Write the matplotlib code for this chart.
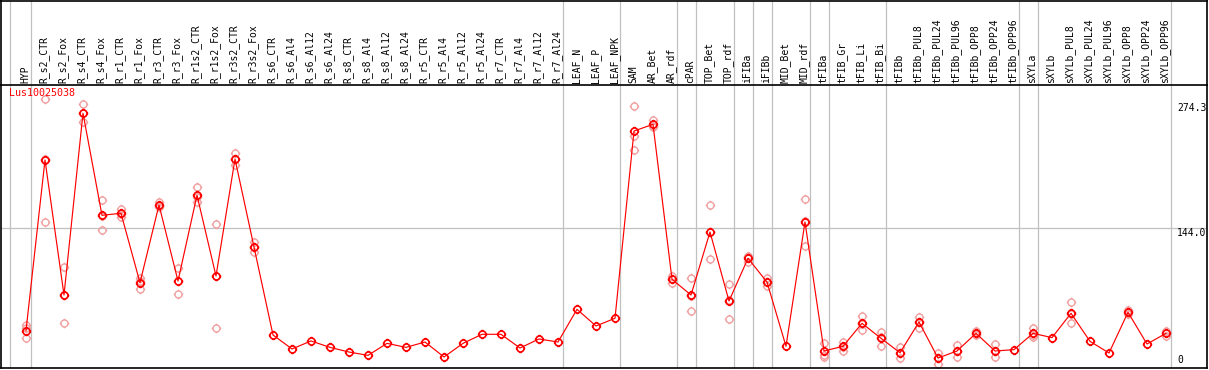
import numpy as np
import matplotlib
matplotlib.use('Agg')
import matplotlib.pyplot as plt
import matplotlib.transforms as mtransforms
from matplotlib.path import Path
from matplotlib.lines import Line2D

# sample / condition names (left to right)
categories = ['HYP', 'R_s2_CTR', 'R_s2_Fox', 'R_s4_CTR', 'R_s4_Fox', 'R_r1_CTR', 'R_r1_Fox',
              'R_r3_CTR', 'R_r3_Fox', 'R_r1s2_CTR', 'R_r1s2_Fox', 'R_r3s2_CTR', 'R_r3s2_Fox',
              'R_s6_CTR', 'R_s6_Al4', 'R_s6_Al12', 'R_s6_Al24', 'R_s8_CTR', 'R_s8_Al4',
              'R_s8_Al12', 'R_s8_Al24', 'R_r5_CTR', 'R_r5_Al4', 'R_r5_Al12', 'R_r5_Al24',
              'R_r7_CTR', 'R_r7_Al4', 'R_r7_Al12', 'R_r7_Al24', 'LEAF_N', 'LEAF_P', 'LEAF_NPK',
              'SAM', 'AR_Bet', 'AR_rdf', 'cPAR', 'TOP_Bet', 'TOP_rdf', 'iFIBa', 'iFIBb',
              'MID_Bet', 'MID_rdf', 'tFIBa', 'tFIB_Gr', 'tFIB_Li', 'tFIB_Bi', 'tFIBb',
              'tFIBb_PUL8', 'tFIBb_PUL24', 'tFIBb_PUL96', 'tFIBb_OPP8', 'tFIBb_OPP24',
              'tFIBb_OPP96', 'sXYLa', 'sXYLb', 'sXYLb_PUL8', 'sXYLb_PUL24', 'sXYLb_PUL96',
              'sXYLb_OPP8', 'sXYLb_OPP24', 'sXYLb_OPP96']

# mean expression per sample
means = [36.0, 215.0, 73.4, 264.0, 157.0, 159.1, 86.3, 167.8, 88.1, 178.0, 93.3, 216.0, 123.8,
         31.5, 16.8, 25.2, 18.5, 13.6, 10.1, 22.7, 18.5, 24.1, 8.4, 22.7, 32.2,
         32.2, 17.8, 27.3, 24.1, 58.4, 40.9, 49.0,
         245.4, 252.4, 89.9, 73.4, 139.5, 67.1, 111.9, 87.0,
         19.6, 150.0, 14.7, 19.6, 43.7, 28.0, 12.9,
         45.1, 7.3, 14.7, 33.2, 14.7, 16.1, 33.2, 28.7, 54.2, 24.8, 12.6,
         55.3, 22.0, 33.2]

nan = np.nan
# replicates (nan = hidden under the mean)
rep1 = [41.5, 279.0, 102.4, 273.7, 173.0, 163.6, 90.9, 171.3, 101.4, 186.4, 147.5, 222.0, 128.7,
        nan, nan, nan, nan, nan, nan, nan, nan, nan, nan, nan, nan,
        nan, nan, nan, nan, nan, nan, nan,
        271.6, 257.0, 93.7, 90.9, 167.5, 84.9, 114.6, 90.9,
        nan, 174.1, 22.8, 24.5, 51.4, 34.3, 19.2,
        50.7, 12.9, 21.0, 35.7, 21.7, nan, 39.1, nan, 65.7, nan, nan,
        57.7, nan, 35.7]
rep2 = [38.5, 216.3, 73.8, 263.8, 156.4, 158.0, 88.6, 166.7, 88.4, 176.3, 93.6, 216.2, 124.2,
        nan, nan, nan, nan, nan, nan, nan, nan, nan, nan, nan, nan,
        nan, nan, nan, nan, nan, nan, nan,
        240.2, 251.0, 89.7, 72.7, 139.8, 68.2, 112.8, 87.2,
        nan, 151.4, 10.5, 19.3, 43.0, 29.5, 12.5,
        45.5, 7.6, 15.1, 32.4, 14.4, nan, 31.5, nan, 53.2, nan, nan,
        53.5, nan, 30.7]
rep3 = [28.5, 149.7, 44.0, 254.5, 141.6, 155.6, 79.4, 165.4, 74.5, 171.3, 38.8, 209.8, 118.5,
        nan, nan, nan, nan, nan, nan, nan, nan, nan, nan, nan, nan,
        nan, nan, nan, nan, nan, nan, nan,
        225.2, 249.3, 86.3, 56.6, 111.2, 48.2, 108.3, 82.9,
        nan, 124.5, 8.7, 15.0, 36.7, 20.2, 7.0,
        39.1, 1.4, 8.0, 31.5, 8.0, nan, 29.0, nan, 43.7, nan, nan,
        nan, nan, nan]

# group separators sit just after these sample indices
group_ends = [0, 28, 31, 34, 35, 37, 38, 39, 41, 42, 45, 52, 53, 60]
ytick_vals = [0, 144.0, 274.3]
gene_name = 'Lus10025038'

x = np.arange(len(categories))

# circle marker with four little ticks outside
circ = Path.unit_circle()
tick_paths = [Path([(0, 1), (0, 1.35)], [Path.MOVETO, Path.LINETO]),
              Path([(0, -1), (0, -1.35)], [Path.MOVETO, Path.LINETO]),
              Path([(1, 0), (1.35, 0)], [Path.MOVETO, Path.LINETO]),
              Path([(-1, 0), (-1.35, 0)], [Path.MOVETO, Path.LINETO])]
mk = Path.make_compound_path(circ, *tick_paths)

mono = 'DejaVu Sans Mono'

fig = plt.figure(figsize=(12.09, 3.70), dpi=100)
W, H = 1209.0, 370.0
ax = fig.add_axes([1 / W, 2 / H, 1206 / W, 283 / H])
ax.set_xlim((1 - 26) / 19.0, (1207 - 26) / 19.0)
ax.set_ylim(-3.15, 293.65)
ax.set_xticks([])
ax.set_yticks([])
for s in ax.spines.values():
    s.set_color('black')
    s.set_linewidth(1.2)

# grid
ax.axhline(144.0, color='#c0c0c0', lw=0.9, zorder=1)
seps = [-0.84] + [g + 0.25 for g in group_ends]
ax.vlines(seps, 0, 368 / 283.0, color='#c0c0c0', lw=0.9,
          transform=ax.get_xaxis_transform(), clip_on=False, zorder=1)

# replicates then means
for rep in [rep1, rep2, rep3]:
    ax.plot(x, rep, ls='none', marker=mk, markersize=6.8, mfc='none', mec='#f0a0a0',
            mew=1.0, zorder=2)
ax.plot(x, means, color='red', lw=0.85, marker=mk, markersize=6.8, mfc='none', mec='red',
        mew=1.2, zorder=3)

# header labels
hdr = mtransforms.blended_transform_factory(ax.transData, ax.transAxes)
for xi, lab in zip(x, categories):
    ax.text(xi - 0.05, 1 + 2 / 283.0, lab, rotation=90, ha='center', va='bottom',
            fontsize=7, family=mono, transform=hdr, clip_on=False)

ax.text(-0.87, 285.5, gene_name, color='red', fontsize=7.2, family=mono, va='center', ha='left')

# right side value labels
lx = (1177 - 26) / 19.0
for v in ytick_vals:
    if v == 0:
        ax.text(lx, v, '0', fontsize=7, family=mono, ha='left', va='bottom')
    else:
        ax.text(lx, v, '%.1f' % v, fontsize=7, family=mono, ha='left', va='top')

# outer frame around the header
fig.add_artist(Line2D([0, 1207 / W], [1 - 0.6 / H, 1 - 0.6 / H], color='black', lw=1.2,
                      transform=fig.transFigure))
fig.add_artist(Line2D([1 / W, 1 / W], [285 / H, 1], color='black', lw=1.2,
                      transform=fig.transFigure))
fig.add_artist(Line2D([1207 / W, 1207 / W], [285 / H, 1], color='black', lw=1.2,
                      transform=fig.transFigure))

fig.savefig('out.png', dpi=100)
